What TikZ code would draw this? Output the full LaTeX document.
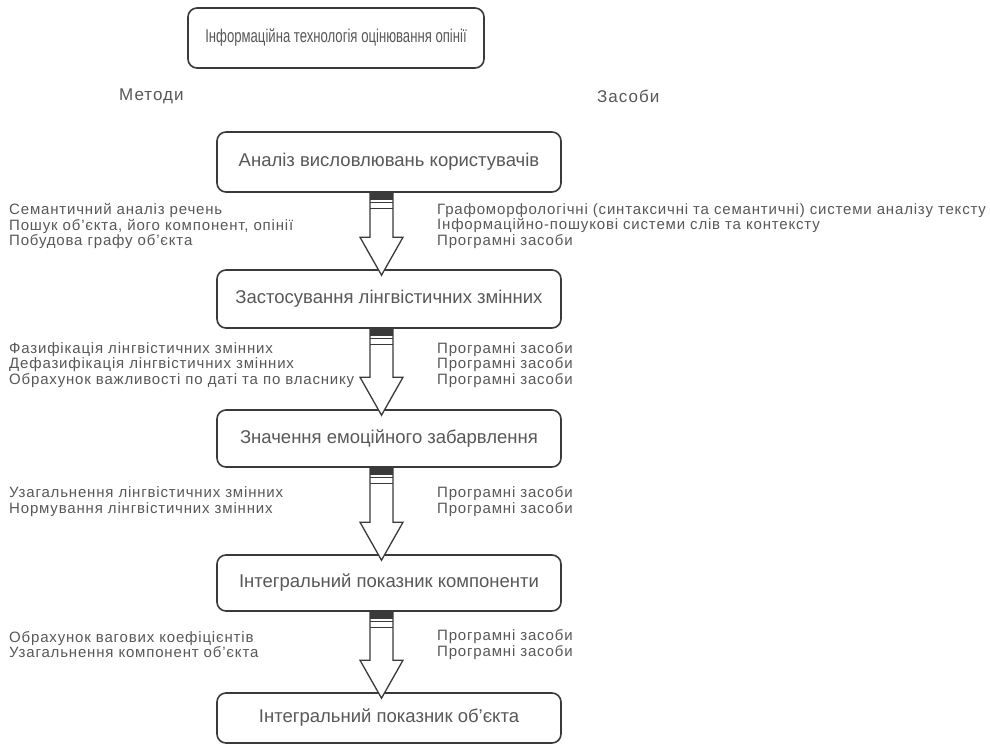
\documentclass[tikz,border=0pt]{standalone}
\usepackage{fontspec}
\setmainfont{Liberation Sans}
\usepackage{xcolor}
\usepackage{graphicx}
\usetikzlibrary{calc}

\definecolor{txtgray}{HTML}{585858}
\definecolor{linegray}{HTML}{3A3A3A}

% striped block arrow between two boxes
\newcommand{\stripearrow}[2]{%
  \draw[arrowshape] let \p1=($(#1.south)+(-7.5,0)$), \p2=($(#2.north)+(-7.5,6)$) in
    (\x1-11.5pt,\y1) -- (\x1-11.5pt,\y2+38pt) -- (\x1-21.5pt,\y2+38pt) -- (\x1,\y2)
    -- (\x1+21.5pt,\y2+38pt) -- (\x1+11.5pt,\y2+38pt) -- (\x1+11.5pt,\y1) -- cycle;
  \fill[linegray] let \p1=($(#1.south)+(-7.5,0)$) in
    (\x1-11.5pt,\y1) rectangle (\x1+11.5pt,\y1-7pt);
  \draw[linegray, line width=1.2pt] let \p1=($(#1.south)+(-7.5,0)$) in
    (\x1-11.5pt,\y1-10pt) -- (\x1+11.5pt,\y1-10pt)
    (\x1-11.5pt,\y1-16pt) -- (\x1+11.5pt,\y1-16pt);
}

\begin{document}
\begin{tikzpicture}[
    x=1pt, y=-1pt,
    font=\fontsize{18.5}{20}\selectfont,
    box/.style={
        draw=linegray,
        line width=1.6pt,
        rounded corners=9pt,
        rectangle,
        align=center,
        text=txtgray,
        minimum width=344pt,
        inner sep=0pt
    },
    note/.style={
        align=left,
        anchor=west,
        text=txtgray,
        inner sep=0pt,
        font=\fontsize{15}{15.3}\selectfont\addfontfeature{LetterSpace=5.5}
    },
    heading/.style={
        anchor=west,
        text=txtgray,
        inner sep=0pt,
        font=\fontsize{17}{18}\selectfont\addfontfeature{LetterSpace=6}
    },
    arrowshape/.style={draw=linegray, fill=white, line width=1.3pt, line join=miter}
]
\useasboundingbox (0,0) rectangle (990,744);
\fill[white] (0,0) rectangle (990,744);

% Top box
\node[box, minimum width=296pt, minimum height=60pt] (tech) at (336,38) {\scalebox{0.71}[1]{Інформаційна технологія оцінювання опінії}};

% Column headings
\node[heading] (methods) at (119,96) {Методи};
\node[heading] (means) at (597,96) {Засоби};

% Main chain of boxes
\node[box, minimum height=60pt] (analysis) at (389,162) {Аналіз висловлювань користувачів};
\node[box, minimum height=58pt] (lingvars) at (389,299) {Застосування лінгвістичних змінних};
\node[box, minimum height=57pt] (emotion) at (389,438.5) {Значення емоційного забарвлення};
\node[box, minimum height=56pt] (component) at (389,583) {Інтегральний показник компоненти};
\node[box, minimum height=50pt] (object) at (389,718) {Інтегральний показник об'єкта};

% Methods (left)
\node[note] (meth1) at (9,226) {Семантичний аналіз речень\\Пошук об'єкта, його компонент, опінії\\Побудова графу об'єкта};
\node[note] (meth2) at (9,365) {Фазифікація лінгвістичних змінних\\Дефазифікація лінгвістичних змінних\\Обрахунок важливості по даті та по власнику};
\node[note] (meth3) at (9,501.5) {Узагальнення лінгвістичних змінних\\Нормування лінгвістичних змінних};
\node[note] (meth4) at (9,644.5) {Обрахунок вагових коефіцієнтів\\Узагальнення компонент об'єкта};

% Means (right)
\node[note] (mean1) at (437,226) {Графоморфологічні (синтаксичні та семантичні) системи аналізу тексту\\Інформаційно-пошукові системи слів та контексту\\Програмні засоби};
\node[note] (mean2) at (437,365) {Програмні засоби\\Програмні засоби\\Програмні засоби};
\node[note] (mean3) at (437,501.5) {Програмні засоби\\Програмні засоби};
\node[note] (mean4) at (437,644.5) {Програмні засоби\\Програмні засоби};

% Arrows between boxes
\stripearrow{analysis}{lingvars}
\stripearrow{lingvars}{emotion}
\stripearrow{emotion}{component}
\stripearrow{component}{object}

\end{tikzpicture}
\end{document}
